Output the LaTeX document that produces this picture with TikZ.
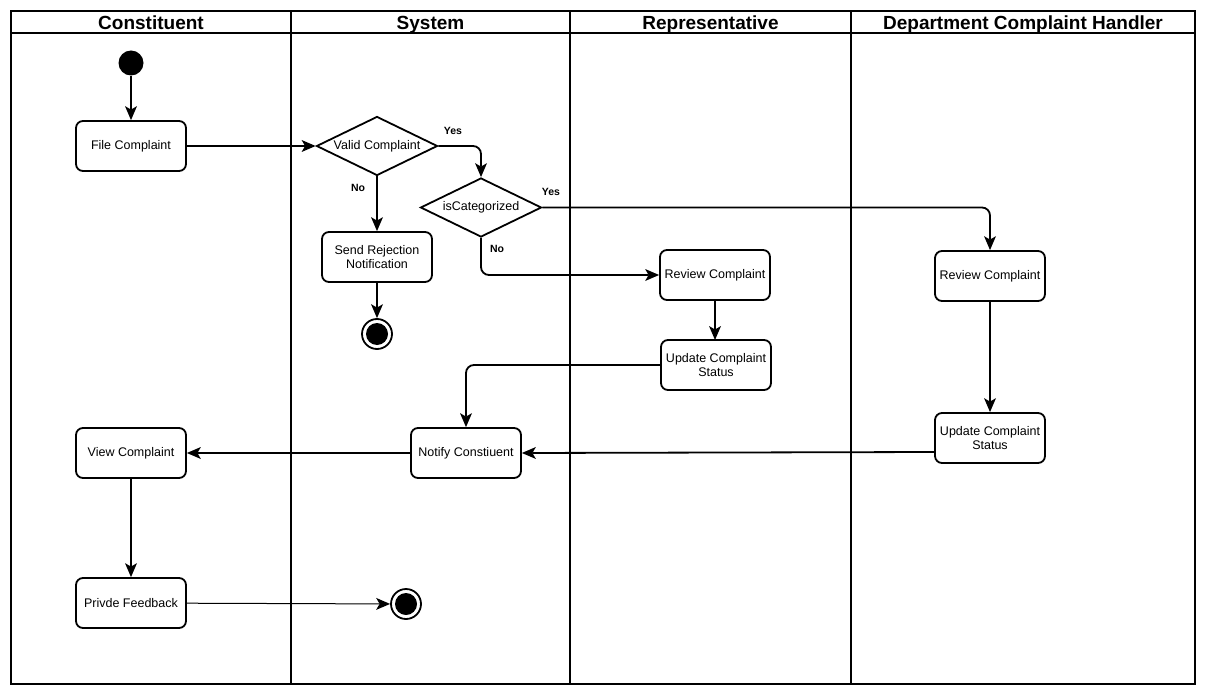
\documentclass[tikz,border=0pt]{standalone}
\usepackage{fontspec}
\setmainfont{Liberation Sans}
\usetikzlibrary{arrows.meta,shapes.geometric,calc}
\begin{document}
\begin{tikzpicture}[x=1pt,y=-1pt,
  lane/.style={line width=2pt,draw=black},
  act/.style={draw,line width=1.8pt,rounded corners=7pt,minimum width=110pt,minimum height=50pt,align=center,font=\fontsize{12.5}{14.5}\selectfont,inner sep=1pt},
  dec/.style={draw,diamond,line width=1.8pt,minimum width=121pt,minimum height=59pt,aspect=2.05,inner sep=0pt,font=\fontsize{12.5}{14.5}\selectfont},
  tip/.tip={Stealth[length=14pt,width=12pt,inset=3.5pt,line width=0pt]},
  flow/.style={line width=1.8pt,-tip,rounded corners=8pt},
  thinflow/.style={line width=1pt,-tip},
  lbl/.style={font=\fontsize{10.5}{12}\selectfont\bfseries},
  hdr/.style={font=\fontsize{19}{22}\selectfont\bfseries,text height=14pt,text depth=4pt,inner sep=0pt},
  startnode/.style={circle,fill=black,minimum size=25pt,inner sep=0pt},
  endnode/.style={circle,draw,line width=1.8pt,minimum size=30pt,inner sep=0pt,
     path picture={\fill (path picture bounding box.center) circle (11pt);}}
]
\useasboundingbox (0,0) rectangle (1206,695);
% lanes
\draw[lane] (11,11.5) rectangle (1195,684);
\draw[lane] (11,33.5) -- (1195,33.5);
\draw[lane] (291,11.5) -- (291,684);
\draw[lane] (570,11.5) -- (570,684);
\draw[lane] (851,11.5) -- (851,684);
\node[hdr] (h1) at (151,24.5) {Constituent};
\node[hdr] (h2) at (430.5,24.5) {System};
\node[hdr] (h3) at (710.5,24.5) {Representative};
\node[hdr] (h4) at (1023,24.5) {Department Complaint Handler};
% nodes
\node[startnode] (start) at (131,63) {};
\node[act] (file) at (131,146) {File Complaint};
\node[dec] (valid) at (377,146) {Valid Complaint};
\node[dec] (cat) at (481,207.5) {isCategorized};
\node[act] (reject) at (377,257) {Send Rejection\\Notification};
\node[endnode] (end1) at (377,334) {};
\node[act] (rrev) at (715,275) {Review Complaint};
\node[act] (rupd) at (716,365) {Update Complaint\\Status};
\node[act] (drev) at (990,276) {Review Complaint};
\node[act] (dupd) at (990,438) {Update Complaint\\Status};
\node[act] (notify) at (466,453) {Notify Constiuent};
\node[act] (view) at (131,453) {View Complaint};
\node[act] (fb) at (131,603) {Privde Feedback};
\node[endnode] (end2) at (406,604) {};
% edges
\draw[flow] (start) -- (file);
\draw[flow] (file) -- (valid);
\draw[flow] (valid.east) -| (cat.north);
\draw[flow] (valid.south) -- (reject.north);
\draw[flow] (reject) -- (end1);
\draw[flow] (cat.east) -| (drev.north);
\draw[flow] (cat.south) |- (rrev.west);
\draw[flow] (rrev.south -| 715,0) -- (715,340);
\draw[flow] (drev) -- (dupd);
\draw[flow] (rupd.west) -| (notify.north);
\draw[flow] (dupd.west |- 0,452) -- (notify.east);
\draw[flow] (notify) -- (view);
\draw[flow] (view) -- (fb);
\draw[thinflow] (fb) -- (end2);
% labels
\node[lbl] (yes1) at (453,131) {Yes};
\node[lbl] (no1) at (358,188) {No};
\node[lbl] (yes2) at (551,192) {Yes};
\node[lbl] (no2) at (497,249) {No};
\end{tikzpicture}
\end{document}
